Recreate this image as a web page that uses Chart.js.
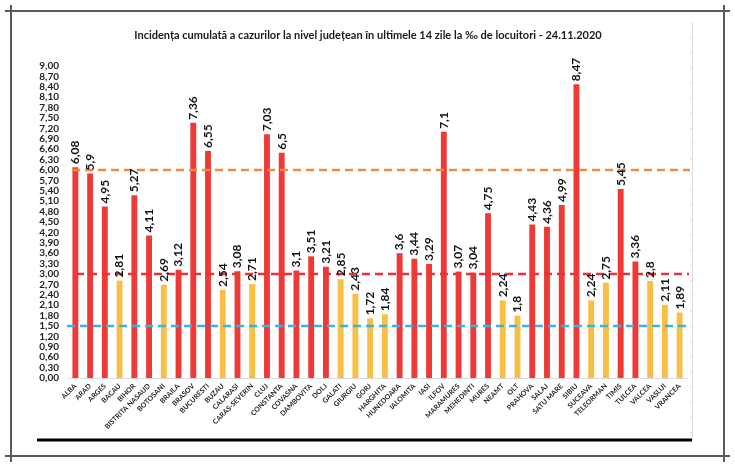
<!DOCTYPE html>
<html>
<head>
<meta charset="utf-8">
<script src="https://cdn.jsdelivr.net/npm/chart.js@4/dist/chart.umd.min.js"></script>
<style>
html,body{margin:0;padding:0;background:#fff;}
#wrap{position:relative;width:735px;height:467px;}
</style>
</head>
<body>
<div id="wrap"><canvas id="c" width="735" height="467"></canvas></div>
<script>
const TITLE = "Incidența cumulată a cazurilor la nivel județean în ultimele 14 zile la ‰ de locuitori - 24.11.2020";
const counties = ["ALBA","ARAD","ARGES","BACAU","BIHOR","BISTRITA NASAUD","BOTOSANI","BRAILA","BRASOV","BUCURESTI","BUZAU","CALARASI","CARAS-SEVERIN","CLUJ","CONSTANTA","COVASNA","DAMBOVITA","DOLJ","GALATI","GIURGIU","GORJ","HARGHITA","HUNEDOARA","IALOMITA","IASI","ILFOV","MARAMURES","MEHEDINTI","MURES","NEAMT","OLT","PRAHOVA","SALAJ","SATU MARE","SIBIU","SUCEAVA","TELEORMAN","TIMIS","TULCEA","VALCEA","VASLUI","VRANCEA"];
const incidence = [6.08,5.9,4.95,2.81,5.27,4.11,2.69,3.12,7.36,6.55,2.54,3.08,2.71,7.03,6.5,3.1,3.51,3.21,2.85,2.43,1.72,1.84,3.6,3.44,3.29,7.1,3.07,3.04,4.75,2.24,1.8,4.43,4.36,4.99,8.47,2.24,2.75,5.45,3.36,2.8,2.11,1.89];
const thresholdValues = [6.0, 3.0, 1.5];
const thresholdColors = ["#F08A3C", "#E8333A", "#33B5E8"];
const yMin = 0, yMax = 9, yStep = 0.3;

const RED = "#EE3A37", YELLOW = "#F9BF44";
const barColors = incidence.map(v => v > 3 ? RED : YELLOW);
const FONT = "Lato, 'Open Sans', sans-serif";

const decorPlugin = {
  id: 'decor',
  beforeDraw(chart) {
    const ctx = chart.ctx;
    ctx.save();
    ctx.fillStyle = '#fff';
    ctx.fillRect(0, 0, chart.width, chart.height);
    ctx.strokeStyle = '#5a5a5a';
    ctx.lineWidth = 2;
    ctx.beginPath();
    ctx.moveTo(5, 11); ctx.lineTo(730, 11);
    ctx.moveTo(5, 456); ctx.lineTo(730, 456);
    ctx.moveTo(11, 5); ctx.lineTo(11, 462);
    ctx.moveTo(724, 5); ctx.lineTo(724, 462);
    ctx.stroke();
    ctx.strokeStyle = '#dcdcdc';
    ctx.lineWidth = 1;
    ctx.beginPath();
    ctx.moveTo(692.5, 22); ctx.lineTo(692.5, 440);
    for (let y = 37; y < 440; y += 15.2) { ctx.moveTo(690, y + 0.5); ctx.lineTo(693, y + 0.5); }
    ctx.stroke();
    ctx.strokeStyle = '#000';
    ctx.lineWidth = 3;
    ctx.beginPath();
    ctx.moveTo(37, 440); ctx.lineTo(692, 440);
    ctx.stroke();
    ctx.fillStyle = '#1a1a1a';
    ctx.font = "bold 11px " + FONT;
    ctx.textAlign = 'center';
    ctx.textBaseline = 'middle';
    ctx.fillText(TITLE, 368, 35);
    ctx.restore();
  },
  afterDatasetsDraw(chart) {
    const ctx = chart.ctx;
    const y = chart.scales.y;
    ctx.save();
    const starts = [72, 76, 67];
    const ends = [690, 689, 687];
    thresholdValues.forEach((v, i) => {
      const py = y.getPixelForValue(v);
      ctx.strokeStyle = thresholdColors[i];
      ctx.lineWidth = 2.5;
      ctx.setLineDash([8, 5]);
      ctx.beginPath();
      ctx.moveTo(starts[i], py); ctx.lineTo(ends[i], py);
      ctx.stroke();
    });
    ctx.setLineDash([]);
    const meta = chart.getDatasetMeta(0);
    ctx.fillStyle = '#111';
    ctx.font = "bold 12px " + FONT;
    ctx.textAlign = 'left';
    ctx.textBaseline = 'middle';
    meta.data.forEach((bar, i) => {
      ctx.save();
      ctx.translate(bar.x, bar.y - 3);
      ctx.rotate(-Math.PI / 2);
      ctx.fillText(String(incidence[i]).replace('.', ','), 0, 0);
      ctx.restore();
    });
    ctx.restore();
  }
};

new Chart(document.getElementById('c'), {
  type: 'bar',
  data: {
    labels: counties,
    datasets: [{
      data: incidence,
      backgroundColor: barColors,
      borderWidth: 0,
      barPercentage: 0.4,
      categoryPercentage: 1.0
    }]
  },
  options: {
    responsive: false,
    animation: false,
    layout: { padding: { top: 66, right: 48, left: 0, bottom: 0 } },
    plugins: { legend: { display: false }, tooltip: { enabled: false }, title: { display: false } },
    scales: {
      x: {
        grid: { display: false, drawTicks: false },
        border: { display: true, color: '#d9d9d9', width: 1 },
        ticks: {
          autoSkip: false, maxRotation: 45, minRotation: 45, padding: 4,
          color: '#222', font: { family: FONT, size: 7, weight: 'bold' }
        },
        afterFit(scale) { scale.height = 89; }
      },
      y: {
        min: yMin, max: yMax,
        grid: { display: false, drawTicks: false },
        border: { display: false },
        ticks: {
          stepSize: yStep, padding: 9, color: '#222', autoSkip: false,
          font: { family: FONT, size: 10, weight: 'bold', lineHeight: 1 },
          callback: v => Number(v).toFixed(2).replace('.', ',')
        },
        afterFit(scale) { scale.width = 68; }
      }
    }
  },
  plugins: [decorPlugin]
});
</script>
</body>
</html>
